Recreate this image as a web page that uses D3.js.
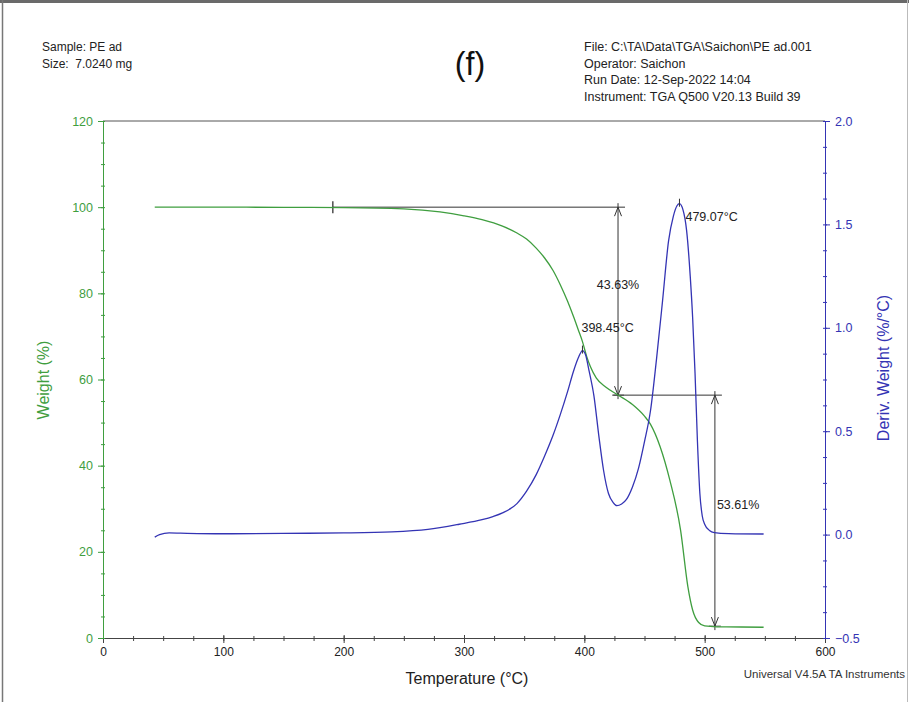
<!DOCTYPE html>
<html>
<head>
<meta charset="utf-8">
<script src="https://cdn.jsdelivr.net/npm/d3@7"></script>
<style>
  html, body { margin: 0; padding: 0; background: #fff; }
  svg { display: block; font-family: "Liberation Sans", Arial, sans-serif; }
  text { white-space: pre; }
</style>
</head>
<body>
<svg id="chart" width="909" height="702"></svg>
<script>
// ---------- DATA ----------
const weightTemp = [43, 100, 150, 200, 250, 280, 300, 315, 332, 344, 352, 360, 367, 374, 380, 386, 391, 395, 398.45, 402, 405, 410, 418, 428, 440, 450, 455, 463, 471, 480, 486, 490, 495, 500, 510, 530, 549];
const weightVal  = [100, 100, 99.95, 99.9, 99.6, 98.9, 98.0, 97.1, 95.6, 94.0, 92.6, 90.5, 88.2, 85.3, 82.0, 78.2, 74.6, 71.5, 68.8, 65.3, 63.0, 60.3, 58.2, 56.4, 54.2, 51.5, 49.6, 44.4, 36.7, 25.0, 12.0, 6.5, 3.6, 2.8, 2.6, 2.55, 2.5];

const derivTemp = [43, 47, 55, 70, 100, 150, 200, 240, 270, 296, 315, 324, 332, 344, 352, 360, 367, 374, 380, 386, 391, 395, 398.45, 401, 404, 408, 412, 416, 420, 424, 427, 431, 435, 440, 445, 450, 455, 460, 465, 470, 474, 477, 479.07, 482, 485, 488, 490, 492, 494, 496, 498, 500, 504, 508, 520, 549];
const derivVal  = [-0.012, 0.0, 0.008, 0.006, 0.004, 0.006, 0.008, 0.013, 0.025, 0.05, 0.072, 0.087, 0.105, 0.15, 0.21, 0.29, 0.38, 0.48, 0.58, 0.69, 0.79, 0.855, 0.89, 0.87, 0.79, 0.67, 0.48, 0.31, 0.2, 0.155, 0.14, 0.148, 0.17, 0.23, 0.32, 0.45, 0.6, 0.85, 1.13, 1.42, 1.54, 1.59, 1.60, 1.57, 1.47, 1.25, 1.05, 0.78, 0.45, 0.2, 0.09, 0.05, 0.02, 0.01, 0.005, 0.003];

const xTicks = [0, 100, 200, 300, 400, 500, 600];
const yLeftTicks = [0, 20, 40, 60, 80, 100, 120];
const yRightTicks = [-0.5, 0.0, 0.5, 1.0, 1.5, 2.0];

const step1 = {tStart: 191, tLine: 428, wTop: 100, wBottom: 56.37, label: "43.63%"};
const step2 = {tStart: 424, tLine: 508.5, wTop: 56.37, wBottom: 2.76, label: "53.61%"};
const peaks = [{t: 398.45, d: 0.89, label: "398.45°C"}, {t: 479.07, d: 1.60, label: "479.07°C"}];

const headerLeft = ["Sample: PE ad", "Size:  7.0240 mg"];
const headerRight = ["File: C:\\TA\\Data\\TGA\\Saichon\\PE ad.001", "Operator: Saichon", "Run Date: 12-Sep-2022 14:04", "Instrument: TGA Q500 V20.13 Build 39"];

// ---------- SETUP ----------
const svg = d3.select("#chart");
const L = 103, R = 825, T = 121, B = 638;
const green = "#3f9e3f", blue = "#3434b4", dark = "#444";
const FF = "Liberation Sans, Arial, sans-serif";

const x = d3.scaleLinear().domain([0, 600]).range([L, R]);
const yL = d3.scaleLinear().domain([0, 120]).range([B, T]);
const yR = d3.scaleLinear().domain([-0.5, 2.0]).range([B, T]);

// image border
svg.append("rect").attr("x", 0).attr("y", 0).attr("width", 909).attr("height", 3).attr("fill", "#6a6a6a");
svg.append("line").attr("x1", 2.5).attr("x2", 2.5).attr("y1", 0).attr("y2", 702).attr("stroke", "#777").attr("stroke-width", 1.5);
svg.append("line").attr("x1", 907.5).attr("x2", 907.5).attr("y1", 0).attr("y2", 702).attr("stroke", "#bbb").attr("stroke-width", 1);

// header texts
svg.append("g").selectAll("text").data(headerLeft).join("text")
  .attr("x", 42).attr("y", (d, i) => 51 + i * 16.5)
  .attr("font-size", 12).attr("fill", "#222").text(d => d);
svg.append("g").selectAll("text").data(headerRight).join("text")
  .attr("x", 584).attr("y", (d, i) => 51 + i * 16.5)
  .attr("font-size", 12.5).attr("fill", "#222").text(d => d);
svg.append("text").attr("x", 470).attr("y", 75).attr("text-anchor", "middle")
  .attr("font-size", 34).attr("fill", "#111").attr("transform", "translate(470,0) scale(0.95,1) translate(-470,0)").text("(f)");

// frame top
svg.append("line").attr("x1", L).attr("x2", R).attr("y1", T).attr("y2", T).attr("stroke", "#555").attr("stroke-width", 1);

// bottom axis
const gx = svg.append("g").attr("transform", `translate(0,${B})`);
gx.call(d3.axisBottom(x).tickValues(d3.range(0, 601, 25)).tickFormat("").tickSize(3).tickSizeOuter(0));
gx.call(g => g.selectAll(".tick line").attr("y1", -2).attr("stroke", dark));
gx.call(g => g.select(".domain").attr("stroke", dark));
const gx2 = svg.append("g").attr("transform", `translate(0,${B})`);
gx2.call(d3.axisBottom(x).tickValues(xTicks).tickFormat(d3.format("d")).tickSize(5).tickSizeOuter(0));
gx2.select(".domain").remove();
gx2.selectAll(".tick line").attr("y1", -3).attr("stroke", dark);
gx2.selectAll(".tick text").attr("font-size", 12).attr("fill", "#222").attr("font-family", FF).attr("dy", "0.85em");

// left axis
const gy = svg.append("g").attr("transform", `translate(${L},0)`);
gy.call(d3.axisLeft(yL).tickValues(d3.range(0, 121, 5)).tickFormat("").tickSize(2).tickSizeOuter(0));
gy.selectAll(".tick line").attr("x1", 2).attr("stroke", green);
gy.select(".domain").attr("stroke", green);
const gy2 = svg.append("g").attr("transform", `translate(${L},0)`);
gy2.call(d3.axisLeft(yL).tickValues(yLeftTicks).tickFormat(d3.format("d")).tickSize(5).tickPadding(5).tickSizeOuter(0));
gy2.select(".domain").remove();
gy2.selectAll(".tick line").attr("stroke", green);
gy2.selectAll(".tick text").attr("font-size", 12.5).attr("fill", green).attr("font-family", FF);

// right axis
const gr = svg.append("g").attr("transform", `translate(${R},0)`);
gr.call(d3.axisRight(yR).tickValues(d3.range(-0.5, 2.0001, 0.125)).tickFormat("").tickSize(2).tickSizeOuter(0));
gr.selectAll(".tick line").attr("x1", -2).attr("stroke", blue);
gr.select(".domain").attr("stroke", blue);
const gr2 = svg.append("g").attr("transform", `translate(${R},0)`);
gr2.call(d3.axisRight(yR).tickValues(yRightTicks).tickFormat(d3.format(".1f")).tickSize(5).tickPadding(5).tickSizeOuter(0));
gr2.select(".domain").remove();
gr2.selectAll(".tick line").attr("stroke", blue);
gr2.selectAll(".tick text").attr("font-size", 12.5).attr("fill", blue).attr("font-family", FF);

// axis titles
svg.append("text").attr("x", 467).attr("y", 684).attr("text-anchor", "middle")
  .attr("font-size", 16).attr("fill", "#222").text("Temperature (°C)");
svg.append("text").attr("transform", "translate(49,380) rotate(-90)").attr("text-anchor", "middle")
  .attr("font-size", 16).attr("fill", green).text("Weight (%)");
svg.append("text").attr("transform", "translate(889,368) rotate(-90)").attr("text-anchor", "middle")
  .attr("font-size", 16).attr("fill", blue).text("Deriv. Weight (%/°C)");
svg.append("text").attr("x", 905).attr("y", 678).attr("text-anchor", "end")
  .attr("font-size", 11.5).attr("fill", "#333").text("Universal V4.5A TA Instruments");

// step annotation lines
const ann = svg.append("g").attr("stroke", "#333").attr("stroke-width", 1).attr("fill", "none");
function arrowHead(g, px, py, dir) {
  g.append("path").attr("d", `M${px - 3.5},${py - dir * 9} L${px},${py} L${px + 3.5},${py - dir * 9}`);
}
[step1, step2].forEach(s => {
  const xv = x(s.tLine);
  ann.append("line").attr("x1", x(s.tStart)).attr("x2", xv + 7).attr("y1", yL(s.wTop)).attr("y2", yL(s.wTop));
  ann.append("line").attr("x1", xv).attr("x2", xv).attr("y1", yL(s.wTop) - 4).attr("y2", yL(s.wBottom) + 4);
  arrowHead(ann, xv, yL(s.wTop), -1);
  arrowHead(ann, xv, yL(s.wBottom), 1);
  ann.append("line").attr("x1", xv - 6).attr("x2", xv + 6).attr("y1", yL(s.wBottom)).attr("y2", yL(s.wBottom)).attr("stroke-width", 0.8);
});
ann.append("line").attr("x1", x(step1.tStart)).attr("x2", x(step1.tStart)).attr("y1", yL(step1.wTop) - 6).attr("y2", yL(step1.wTop) + 6).attr("stroke-width", 1.3);

// curves
const lineW = d3.line().x((d, i) => x(weightTemp[i])).y(d => yL(d)).curve(d3.curveMonotoneX);
svg.append("path").datum(weightVal).attr("d", lineW).attr("fill", "none").attr("stroke", green).attr("stroke-width", 1.3);
const lineD = d3.line().x((d, i) => x(derivTemp[i])).y(d => yR(d)).curve(d3.curveMonotoneX);
svg.append("path").datum(derivVal).attr("d", lineD).attr("fill", "none").attr("stroke", blue).attr("stroke-width", 1.3);

// peak markers
peaks.forEach(p => {
  svg.append("line").attr("x1", x(p.t)).attr("x2", x(p.t)).attr("y1", yR(p.d) - 5).attr("y2", yR(p.d) + 3).attr("stroke", "#333");
});

// annotation labels
const labFont = 12.5;
svg.append("text").attr("x", x(step1.tLine)).attr("y", 289).attr("text-anchor", "middle").attr("font-size", labFont).attr("fill", "#222").text(step1.label);
svg.append("text").attr("x", x(step2.tLine) + 2).attr("y", 509).attr("text-anchor", "start").attr("font-size", labFont).attr("fill", "#222").text(step2.label);
svg.append("text").attr("x", x(peaks[0].t) - 1).attr("y", 332).attr("text-anchor", "start").attr("font-size", labFont).attr("fill", "#222").text(peaks[0].label);
svg.append("text").attr("x", x(peaks[1].t) + 6).attr("y", 221).attr("text-anchor", "start").attr("font-size", labFont).attr("fill", "#222").text(peaks[1].label);
</script>
</body>
</html>
